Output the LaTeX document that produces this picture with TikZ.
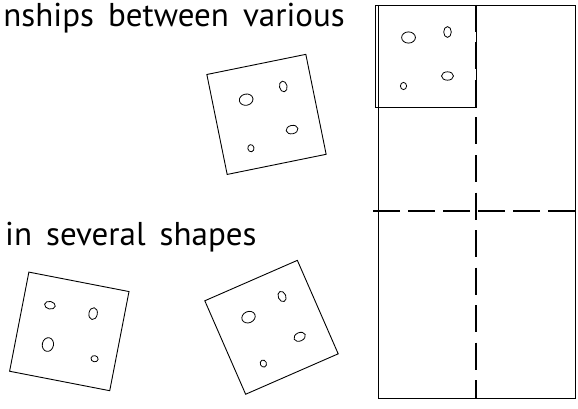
\documentclass[tikz,border=0pt]{standalone}
\usepackage{fontspec}
\setmainfont{PT Sans}[WordSpace=1.6]
\usetikzlibrary{positioning}

\begin{document}
\begin{tikzpicture}[
    x=1pt, y=-1pt,
    outline/.style={draw, line width=0.9pt},
    hole/.style={draw, line width=0.8pt},
    foldv/.style={line width=1.8pt, dash pattern=on 27pt off 10.5pt},
    foldh/.style={line width=1.8pt, dash pattern=on 26.7pt off 8.3pt},
    caption/.style={font=\fontsize{33}{40}\selectfont, inner sep=0pt},
    plate/.pic={
        \draw[outline] (-50.5,-51) rectangle (50.5,51);
        \draw[hole] (-17,-18.5) ellipse [x radius=6.9, y radius=5.6];
        \draw[hole] (22,-24) ellipse [x radius=3.8, y radius=5.4];
        \draw[hole] (22,20) ellipse [x radius=6, y radius=4.2];
        \draw[hole] (-22,30) ellipse [x radius=3.1, y radius=3.6];
    }
]
    \useasboundingbox (0,0) rectangle (578,409);

    \node[caption, anchor=base east] (title) at (345,27) {nships between various};
    \node[caption, anchor=base west] (subtitle) at (5,245) {in several shapes};

    % loose plates
    \pic[rotate=11.5] (platetop) at (266.5,114.4) {plate};
    \pic[rotate=79] (plateleft) at (69.3,331.4) {plate};
    \pic[rotate=23.6] (plateright) at (271.5,327.3) {plate};

    % sheet with fold lines
    \draw[outline] (378,5) rectangle (575,398);
    \pic (platecorner) at (425.5,56) {plate};
    \draw[foldv] (476,5) -- (476,398);
    \draw[foldh] (373.3,211) -- (575,211);
\end{tikzpicture}
\end{document}
